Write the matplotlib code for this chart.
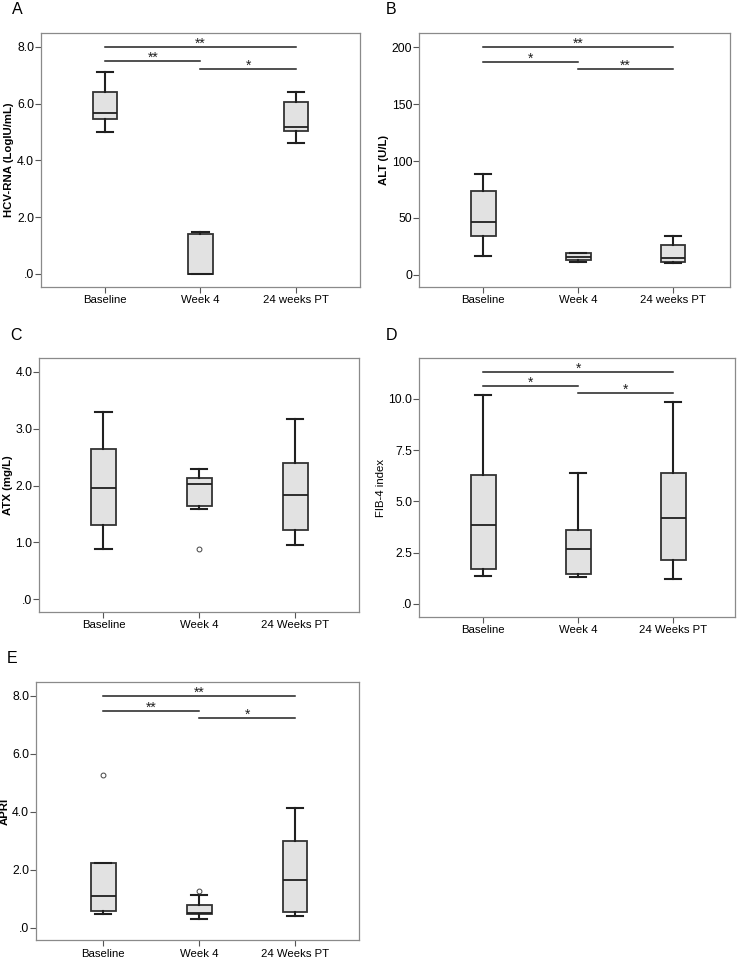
import matplotlib
matplotlib.use("Agg")
import matplotlib.pyplot as plt
from matplotlib.ticker import FuncFormatter

plt.rcParams['font.family'] = ['Liberation Sans', 'DejaVu Sans']

groups_a = ["Baseline", "Week 4", "24 weeks PT"]
groups_c = ["Baseline", "Week 4", "24 Weeks PT"]

# five-number summaries per group: low whisker, Q1, median, Q3, high whisker
hcv_low = [5.0, 0.0, 4.6]
hcv_q1 = [5.46, 0.0, 5.05]
hcv_med = [5.68, 0.0, 5.19]
hcv_q3 = [6.41, 1.41, 6.05]
hcv_high = [7.12, 1.48, 6.41]
hcv_out = [[], [], []]

alt_low = [16.1, 11.4, 10.0]
alt_q1 = [34.3, 13.2, 11.1]
alt_med = [46.0, 15.5, 15.0]
alt_q3 = [73.3, 19.0, 26.1]
alt_high = [88.6, 19.0, 34.3]
alt_out = [[], [], []]

atx_low = [0.885, 1.58, 0.95]
atx_q1 = [1.31, 1.64, 1.22]
atx_med = [1.95, 2.03, 1.83]
atx_q3 = [2.65, 2.13, 2.40]
atx_high = [3.29, 2.29, 3.17]
atx_out = [[], [0.89], []]

fib_low = [1.35, 1.33, 1.22]
fib_q1 = [1.71, 1.48, 2.13]
fib_med = [3.84, 2.67, 4.20]
fib_q3 = [6.31, 3.61, 6.41]
fib_high = [10.18, 6.37, 9.87]
fib_out = [[], [], []]

apri_low = [0.46, 0.31, 0.39]
apri_q1 = [0.59, 0.47, 0.55]
apri_med = [1.09, 0.50, 1.63]
apri_q3 = [2.22, 0.77, 2.99]
apri_high = [2.22, 1.14, 4.13]
apri_out = [[5.26], [1.28], []]

# significance brackets: (from group, to group, height, label)
hcv_sig = [(1, 3, 8.0, "**"), (1, 2, 7.5, "**"), (2, 3, 7.23, "*")]
alt_sig = [(1, 3, 200, "**"), (1, 2, 187.4, "*"), (2, 3, 181, "**")]
fib_sig = [(1, 3, 11.33, "*"), (1, 2, 10.63, "*"), (2, 3, 10.28, "*")]
apri_sig = [(1, 3, 8.0, "**"), (1, 2, 7.49, "**"), (2, 3, 7.24, "*")]

FRAME = "#8a8a8a"
LINE = "#202020"


def spss_fmt(v, pos, decimals):
    s = f"{v:.{decimals}f}"
    if s.startswith("0."):
        s = s[1:]
    return s


def panel(rect, letter, groups, lo, q1, med, q3, hi, out, ylabel, ylim, yticks,
          decimals, sig, xlim=(0.33, 3.67), bold=True):
    ax = fig.add_axes(rect)
    stats = []
    for i in range(3):
        stats.append(dict(whislo=lo[i], q1=q1[i], med=med[i], q3=q3[i],
                          whishi=hi[i], fliers=out[i], label=groups[i]))
    ax.bxp(stats, positions=[1, 2, 3], widths=0.26, patch_artist=True,
           boxprops=dict(facecolor="#e2e2e2", edgecolor="#333333", linewidth=1.3),
           medianprops=dict(color=LINE, linewidth=1.3),
           whiskerprops=dict(color=LINE, linewidth=1.5),
           capprops=dict(color=LINE, linewidth=1.5),
           capwidths=0.17,
           flierprops=dict(marker="o", markersize=3.5, markerfacecolor="white",
                           markeredgecolor="#444444", markeredgewidth=0.7))
    for a, b, h, lab in sig:
        ax.plot([a, b], [h, h], color=LINE, linewidth=1.1, clip_on=False)
        ax.annotate(lab, ((a + b) / 2, h), xytext=(0, -0.5),
                    textcoords="offset points", ha="center", va="baseline",
                    fontsize=10, color=LINE)
    ax.set_xlim(*xlim)
    ax.set_ylim(*ylim)
    ax.set_yticks(yticks)
    ax.yaxis.set_major_formatter(FuncFormatter(lambda v, p: spss_fmt(v, p, decimals)))
    ax.set_ylabel(ylabel, fontsize=8.2, fontweight="bold" if bold else "normal",
                  labelpad=2)
    for s in ax.spines.values():
        s.set_color(FRAME)
        s.set_linewidth(0.9)
    ax.tick_params(axis="both", length=4, width=0.8, color="#555555",
                   labelsize=8.8, pad=1)
    ax.tick_params(axis="x", labelsize=8.2, pad=2)
    fig.text(rect[0] - 0.04 if rect[0] < 0.3 else rect[0] - 0.046,
             rect[1] + rect[3] + 0.0195, letter, fontsize=11.5, va="baseline",
             ha="left")
    return ax


fig = plt.figure(figsize=(7.37, 9.6), dpi=100)

panel([0.0556, 0.7010, 0.4328, 0.2646], "A", groups_a, hcv_low, hcv_q1,
      hcv_med, hcv_q3, hcv_high, hcv_out, "HCV-RNA (LogIU/mL)",
      (-0.46, 8.49), [0, 2, 4, 6, 8], 1, hcv_sig)
panel([0.569, 0.7010, 0.4216, 0.2646], "B", groups_a, alt_low, alt_q1,
      alt_med, alt_q3, alt_high, alt_out, "ALT (U/L)",
      (-10.8, 212.6), [0, 50, 100, 150, 200], 0, alt_sig, xlim=(0.326, 3.6))
panel([0.0533, 0.3628, 0.4342, 0.2640], "C", groups_c, atx_low, atx_q1,
      atx_med, atx_q3, atx_high, atx_out, "ATX (mg/L)",
      (-0.22, 4.24), [0, 1, 2, 3, 4], 1, [])
panel([0.569, 0.3576, 0.4285, 0.2692], "D", groups_c, fib_low, fib_q1,
      fib_med, fib_q3, fib_high, fib_out, "FIB-4 index",
      (-0.62, 11.98), [0, 2.5, 5, 7.5, 10], 1, fib_sig, xlim=(0.326, 3.65),
      bold=False)
panel([0.0488, 0.0205, 0.4387, 0.2690], "E", groups_c, apri_low, apri_q1,
      apri_med, apri_q3, apri_high, apri_out, "APRI",
      (-0.44, 8.48), [0, 2, 4, 6, 8], 1, apri_sig, xlim=(0.3, 3.67))

fig.savefig("out.png", dpi=100)
